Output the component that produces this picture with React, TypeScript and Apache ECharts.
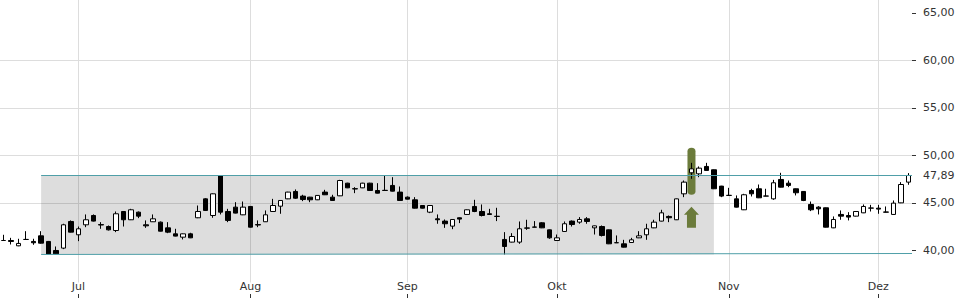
import React, { useEffect, useRef } from "react";
import * as echarts from "echarts";

// ---- data ----
const monthNames = ["Jun", "Jul", "Aug", "Sep", "Okt", "Nov", "Dez"];
const tradingDaysPerMonth = [10, 23, 21, 20, 23, 20, 5];

// [open, close, low, high]
const ohlc: [number, number, number, number][] = [
  [41.05, 41.05, 41.02, 41.65], [41.05, 40.95, 40.63, 41.33], [40.49, 40.74, 40.45, 41.23], [41.16, 41.16, 41.12, 42.03],
  [40.95, 40.81, 40.6, 41.23], [41.54, 40.77, 40.72, 42.03], [40.95, 39.6, 39.55, 41.0], [40.0, 39.65, 39.6, 40.42],
  [40.25, 42.7, 40.14, 42.81], [43.05, 41.93, 41.9, 43.16], [41.65, 42.28, 40.98, 42.52], [42.7, 43.23, 42.45, 43.79],
  [43.68, 43.09, 43.05, 43.79], [42.72, 42.68, 42.28, 42.98], [42.52, 42.17, 42.1, 42.63], [42.1, 43.86, 41.93, 44.1],
  [44.1, 43.23, 42.52, 44.15], [43.23, 44.28, 43.2, 44.38], [44.03, 43.61, 43.4, 44.1], [42.7, 42.59, 42.38, 43.16],
  [43.02, 43.33, 43.0, 43.79], [42.98, 42.03, 42.0, 43.05], [42.38, 41.93, 41.82, 42.98], [41.75, 41.51, 41.48, 42.28],
  [41.4, 41.75, 41.16, 41.78], [41.75, 41.33, 41.3, 41.86], [43.44, 44.1, 43.4, 44.73], [45.43, 44.21, 44.15, 45.5],
  [43.68, 45.96, 43.44, 46.0], [47.85, 44.03, 43.79, 47.89], [44.1, 43.16, 42.98, 44.38], [44.56, 43.93, 43.9, 45.08],
  [43.75, 44.56, 43.72, 45.15], [44.63, 42.45, 42.42, 44.66], [42.72, 42.68, 42.45, 43.16], [43.02, 43.75, 43.0, 44.21],
  [44.1, 44.73, 44.07, 45.43], [44.66, 45.26, 43.86, 45.29], [45.43, 46.14, 45.4, 46.17], [46.21, 45.5, 45.43, 46.42],
  [45.72, 45.36, 45.19, 45.86], [45.61, 45.33, 45.08, 45.64], [45.33, 45.79, 45.3, 45.82], [46.14, 45.86, 45.83, 46.38],
  [45.61, 45.26, 45.23, 45.86], [45.75, 47.36, 45.72, 47.43], [47.08, 46.59, 46.56, 47.12], [46.5, 46.47, 46.03, 46.66],
  [46.59, 47.08, 46.56, 47.12], [47.08, 46.31, 46.28, 47.12], [46.31, 46.03, 46.0, 47.08], [46.33, 46.31, 46.28, 47.89],
  [46.84, 46.24, 46.21, 47.71], [46.14, 45.26, 45.23, 46.73], [45.61, 45.4, 45.37, 45.68], [45.33, 44.45, 44.42, 45.61],
  [44.73, 44.45, 44.42, 44.76], [44.03, 44.73, 43.93, 44.76], [43.33, 43.23, 42.81, 43.79], [43.09, 42.81, 42.38, 43.26],
  [42.56, 43.26, 42.24, 43.29], [43.44, 43.3, 42.88, 43.47], [43.79, 44.28, 43.76, 44.31], [44.63, 44.1, 44.03, 45.33],
  [44.1, 43.68, 43.58, 44.84], [43.86, 43.79, 43.76, 44.38], [43.6, 43.58, 43.09, 44.49], [41.16, 40.42, 39.58, 41.93],
  [40.88, 41.47, 40.85, 41.82], [40.88, 42.28, 40.7, 43.05], [42.37, 42.35, 42.17, 43.23], [42.47, 42.45, 42.43, 43.09],
  [42.91, 42.38, 42.35, 42.98], [42.17, 41.33, 41.23, 42.2], [41.05, 41.33, 41.02, 41.68], [42.0, 42.81, 41.97, 43.05],
  [43.09, 42.73, 42.52, 43.16], [42.98, 43.26, 42.81, 43.51], [43.33, 43.05, 42.81, 43.51], [42.38, 42.59, 41.68, 42.62],
  [42.52, 41.58, 41.47, 42.63], [42.17, 40.7, 40.67, 42.2], [40.82, 40.81, 40.78, 41.58], [40.7, 40.35, 40.32, 41.12],
  [40.84, 41.12, 40.81, 41.33], [41.33, 41.54, 41.3, 42.03], [41.65, 42.28, 41.12, 42.81], [42.38, 42.98, 42.35, 43.23],
  [43.09, 43.96, 43.06, 44.28], [43.58, 43.44, 42.98, 43.68], [43.23, 45.43, 43.2, 45.46], [45.96, 47.19, 45.61, 47.36],
  [48.17, 48.59, 47.54, 49.22], [48.06, 48.66, 47.71, 48.84], [48.84, 48.42, 48.4, 49.22], [48.49, 46.49, 46.46, 48.52],
  [46.77, 45.72, 45.61, 46.8], [45.8, 45.79, 45.76, 46.59], [45.43, 44.56, 44.53, 45.79], [44.28, 45.86, 44.25, 45.96],
  [46.31, 45.96, 45.68, 46.49], [46.49, 45.54, 45.51, 46.94], [45.73, 45.72, 45.7, 46.49], [45.43, 47.12, 45.33, 47.43],
  [47.47, 46.66, 46.63, 48.17], [47.08, 46.84, 46.66, 47.36], [46.49, 46.07, 45.79, 46.52], [46.21, 45.26, 45.19, 46.24],
  [44.84, 44.28, 44.14, 45.15], [44.56, 44.38, 43.79, 44.66], [44.49, 42.45, 42.42, 44.52], [42.38, 43.26, 42.35, 43.58],
  [43.79, 43.61, 43.23, 44.21], [43.68, 43.51, 43.16, 44.03], [43.61, 44.1, 43.58, 44.13], [43.96, 44.63, 43.93, 44.84],
  [44.45, 44.47, 44.1, 44.8], [44.45, 44.35, 43.86, 44.8], [44.05, 44.03, 44.0, 44.63], [43.79, 44.98, 43.76, 45.26],
  [45.01, 46.94, 44.98, 47.19], [47.19, 47.89, 46.91, 48.14],
];

const lastClose = 47.89;
const yTicks = [40, 45, 50, 55, 60, 65];
const channelStartIndex = 5;
const channelTop = [47.89, 47.89];
const channelBottom = [39.58, 39.68];
const rangeEndIndex = 95;
const signalIndex = 92;
const signalBarCenter = 48.33;
const signalArrowCenter = 43.5;

// ---- derived ----
const categories: string[] = [];
const monthStarts: number[] = [];
monthNames.forEach((m, mi) => {
  for (let d = 0; d < tradingDaysPerMonth[mi]; d++) {
    if (d === 0 && mi > 0) monthStarts.push(categories.length);
    categories.push(`${m} ${d + 1}`);
  }
});
const monthStartSet = new Set(monthStarts);

const FONT = "DejaVu Sans";
const TEXT = "#333333";
const GRID = "#dddddd";
const TEAL = "#4f9fa8";
const OLIVE = "#6b7b3b";

const fmt = (v: number) => v.toFixed(2).replace(".", ",");

const barPath = "path://M0,3.5 A3.5,3.5 0 0 1 7,3.5 L7,43.5 A3.5,3.5 0 0 1 0,43.5 Z";
const arrowPath = "path://M7.5,0 L15,8 L12,8 L12,21 L3,21 L3,8 L0,8 Z";

export default function App() {
  const ref = useRef<HTMLDivElement>(null);
  useEffect(() => {
    if (!ref.current) return;
    const chart = echarts.init(ref.current, null, { renderer: "svg" });
    const xMax = categories.length - 0.5;
    const tealStyle = { color: TEAL, width: 1, type: "solid", opacity: 1 };
    const option: any = {
      animation: false,
      grid: { left: 0, width: 912, top: -34.7, height: 332.7, containLabel: false, outerBoundsMode: "none" },
      xAxis: [
        {
          type: "category",
          data: categories,
          boundaryGap: true,
          axisLine: { show: false, onZero: false },
          axisTick: {
            show: true,
            inside: true,
            length: 4,
            alignWithLabel: true,
            interval: (i: number) => monthStartSet.has(i),
            lineStyle: { color: TEXT },
          },
          axisLabel: {
            inside: true,
            margin: 6,
            interval: (i: number) => monthStartSet.has(i),
            formatter: (v: string) => v.split(" ")[0],
            color: TEXT,
            fontFamily: FONT,
            fontSize: 11,
          },
          splitLine: { show: false },
        },
        { type: "value", min: -0.5, max: xMax, show: false, position: "top", axisLine: { onZero: false } },
      ],
      yAxis: {
        type: "value",
        position: "right",
        min: 35,
        max: 70,
        interval: 5,
        axisLine: { show: false, onZero: false },
        axisTick: { show: true, length: 4, lineStyle: { color: TEXT }, customValues: yTicks },
        axisLabel: {
          margin: 11,
          showMinLabel: false,
          showMaxLabel: false,
          formatter: fmt,
          color: TEXT,
          fontFamily: FONT,
          fontSize: 11,
        },
        splitLine: { show: true, showMinLine: false, showMaxLine: false, lineStyle: { color: GRID, width: 1 } },
      },
      series: [
        {
          type: "line",
          xAxisIndex: 1,
          yAxisIndex: 0,
          data: [],
          silent: true,
          markLine: {
            z: 0,
            silent: true,
            symbol: ["none", "none"],
            label: { show: false },
            lineStyle: { color: GRID, width: 1, type: "solid" },
            emphasis: { disabled: true },
            data: monthStarts.map((i) => [{ coord: [i, 36.63] }, { coord: [i, 70] }]),
          },
        },
        {
          type: "line",
          xAxisIndex: 1,
          yAxisIndex: 0,
          data: [],
          silent: true,
          markArea: {
            z: 1,
            silent: true,
            label: { show: false },
            itemStyle: { color: "rgba(0,0,0,0.135)", borderWidth: 0 },
            emphasis: { disabled: true },
            data: [[{ coord: [channelStartIndex, channelBottom[0]] }, { coord: [rangeEndIndex, lastClose] }]],
          },
        },
        {
          type: "line",
          xAxisIndex: 1,
          yAxisIndex: 0,
          data: [],
          silent: true,
          markPoint: {
            z: 2,
            silent: true,
            label: { show: false },
            emphasis: { disabled: true },
            data: [
              { coord: [signalIndex, signalBarCenter], symbol: barPath, symbolSize: [8, 47], itemStyle: { color: OLIVE } },
              { coord: [signalIndex, signalArrowCenter], symbol: arrowPath, symbolSize: [15, 21], itemStyle: { color: OLIVE } },
            ],
          },
        },
        {
          type: "candlestick",
          xAxisIndex: 0,
          yAxisIndex: 0,
          z: 3,
          barWidth: 5,
          data: ohlc,
          itemStyle: {
            color: "#ffffff",
            color0: "#000000",
            borderColor: "#000000",
            borderColor0: "#000000",
            borderColorDoji: "#000000",
            borderWidth: 1,
          },
          emphasis: { disabled: true },
        },
        {
          type: "line",
          xAxisIndex: 1,
          yAxisIndex: 0,
          data: [],
          silent: true,
          markLine: {
            z: 4,
            silent: true,
            symbol: ["none", "none"],
            label: { show: false },
            lineStyle: tealStyle,
            emphasis: { disabled: true },
            data: [
              [
                { coord: [channelStartIndex, channelTop[0]], lineStyle: tealStyle },
                {
                  coord: [xMax, channelTop[1]],
                  lineStyle: tealStyle,
                  label: {
                    show: true,
                    position: "end",
                    distance: 11,
                    formatter: fmt(lastClose),
                    color: TEXT,
                    fontFamily: FONT,
                    fontSize: 11,
                  },
                },
              ],
              [
                { coord: [channelStartIndex, channelBottom[0]], lineStyle: tealStyle },
                { coord: [xMax, channelBottom[1]], lineStyle: tealStyle },
              ],
            ],
          },
        },
      ],
    };
    chart.setOption(option);
    return () => chart.dispose();
  }, []);
  return <div ref={ref} style={{ position: "absolute", left: 0, top: 0, width: 960, height: 300 }} />;
}
